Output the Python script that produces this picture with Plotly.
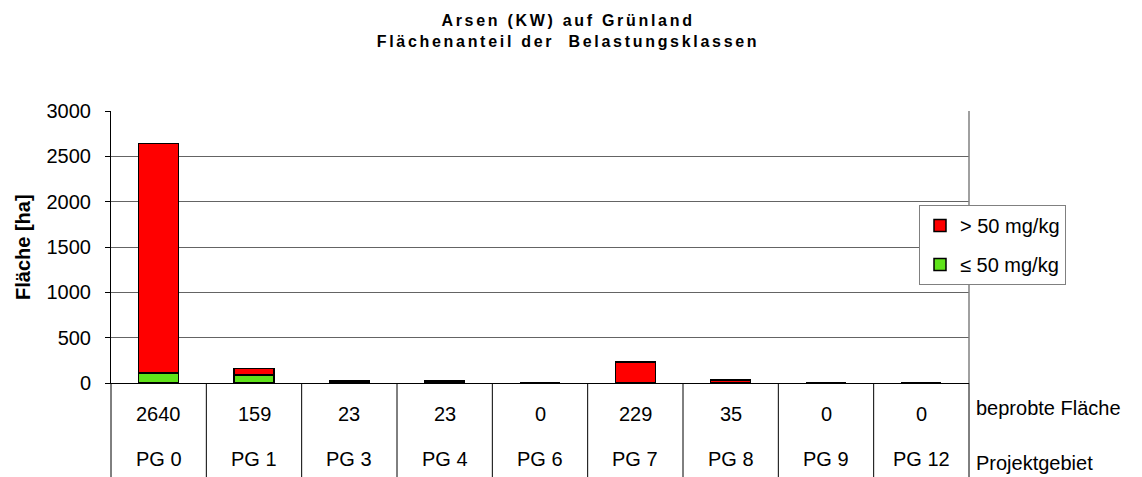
import plotly.graph_objects as go

categories = ["PG 0", "PG 1", "PG 3", "PG 4", "PG 6", "PG 7", "PG 8", "PG 9", "PG 12"]
sampled_area = [2640, 159, 23, 23, 0, 229, 35, 0, 0]
low_class = [110, 90, 0, 0, 0, 0, 0, 0, 0]      # <= 50 mg/kg
high_class = [2530, 69, 23, 23, 0, 229, 35, 0, 0]  # > 50 mg/kg
yticks = [0, 500, 1000, 1500, 2000, 2500, 3000]
row_labels = ["beprobte Fläche", "Projektgebiet"]

FONT = "Liberation Sans, Arial, sans-serif"
OFF = 8  # default page body margin
W, H = 1142 - OFF, 477 - OFF
L, T = 111 - OFF, 111 - OFF
PLOT_RIGHT, PLOT_BOTTOM = 969 - OFF, 383 - OFF
R, B = W - PLOT_RIGHT, H - PLOT_BOTTOM
PW, PH = W - L - R, H - T - B

def py(page_y):
    return (PLOT_BOTTOM - (page_y - OFF)) / PH

def pxx(page_x):
    return ((page_x - OFF) - L) / PW

n = len(categories)
xs = list(range(n))

fig = go.Figure()
fig.add_trace(go.Bar(
    x=xs, y=low_class, name="≤ 50 mg/kg", legendgroup="low", legendrank=2,
    marker=dict(color="#5fe31a", line=dict(color="black", width=1.5)),
))
fig.add_trace(go.Bar(
    x=xs, y=high_class, name="> 50 mg/kg", legendgroup="high", legendrank=1,
    marker=dict(color="#ff0000", line=dict(color="black", width=1.5)),
))

shapes = []
for k in range(n + 1):
    shapes.append(dict(type="line", xref="paper", yref="paper",
                       x0=k / n, x1=k / n, y0=py(480), y1=0,
                       line=dict(color="black", width=1)))
shapes.append(dict(type="line", xref="paper", yref="paper",
                   x0=1, x1=1, y0=0, y1=1, line=dict(color="#808080", width=1.5)))

annotations = []
for i in range(n):
    annotations.append(dict(x=i, y=py(414), xref="x", yref="paper",
                            text=str(sampled_area[i]), showarrow=False,
                            font=dict(size=20, color="black", family=FONT),
                            xanchor="center", yanchor="middle"))
    annotations.append(dict(x=i, y=py(459), xref="x", yref="paper",
                            text=categories[i], showarrow=False,
                            font=dict(size=20, color="black", family=FONT),
                            xanchor="center", yanchor="middle"))
annotations.append(dict(x=pxx(974), y=py(408), xref="paper", yref="paper",
                        text=row_labels[0], showarrow=False,
                        font=dict(size=20, color="black", family=FONT),
                        xanchor="left", yanchor="middle"))
annotations.append(dict(x=pxx(974), y=py(463), xref="paper", yref="paper",
                        text=row_labels[1], showarrow=False,
                        font=dict(size=20, color="black", family=FONT),
                        xanchor="left", yanchor="middle"))
annotations.append(dict(x=pxx(23), y=0.5, xref="paper", yref="paper",
                        text="<b>Fläche [ha]</b>", showarrow=False, textangle=-90,
                        font=dict(size=20, color="black", family=FONT),
                        xanchor="center", yanchor="middle"))

ls = "letter-spacing:2.7px"
title_text = (f'<span style="{ls}">Arsen (KW) auf Grünland</span><br>'
              f'<span style="{ls}">Flächenanteil der \u00a0Belastungsklassen</span>')

fig.update_layout(
    width=W, height=H,
    margin=dict(l=L, r=R, t=T, b=B, autoexpand=False),
    paper_bgcolor="white", plot_bgcolor="white",
    font=dict(family=FONT, size=20, color="black"),
    barmode="stack", bargap=0.58,
    title=dict(text=f"<b>{title_text}</b>", x=(568 - OFF) / W, xanchor="center",
               y=1 - 18 / H, yanchor="top", yref="container",
               font=dict(size=16, family=FONT, color="black")),
    xaxis=dict(range=[-0.5, n - 0.5], showticklabels=False, showgrid=False,
               showline=True, linecolor="black", linewidth=1, ticks="",
               zeroline=False, fixedrange=True),
    yaxis=dict(range=[0, 3000], tickvals=yticks, ticktext=[str(v) for v in yticks],
               showgrid=True, gridcolor="#646464", gridwidth=1,
               showline=True, linecolor="black", linewidth=1,
               ticks="outside", ticklen=5, tickcolor="black",
               ticklabelstandoff=10, zeroline=False,
               tickfont=dict(size=20, family=FONT, color="black")),
    legend=dict(x=pxx(919), y=py(205), xanchor="left", yanchor="top",
                traceorder="grouped", tracegroupgap=10,
                bgcolor="white", bordercolor="#808080", borderwidth=1,
                font=dict(size=20, family=FONT, color="black"),
                itemwidth=30),
    shapes=shapes, annotations=annotations,
    showlegend=True,
)

fig.write_html("out.html")
